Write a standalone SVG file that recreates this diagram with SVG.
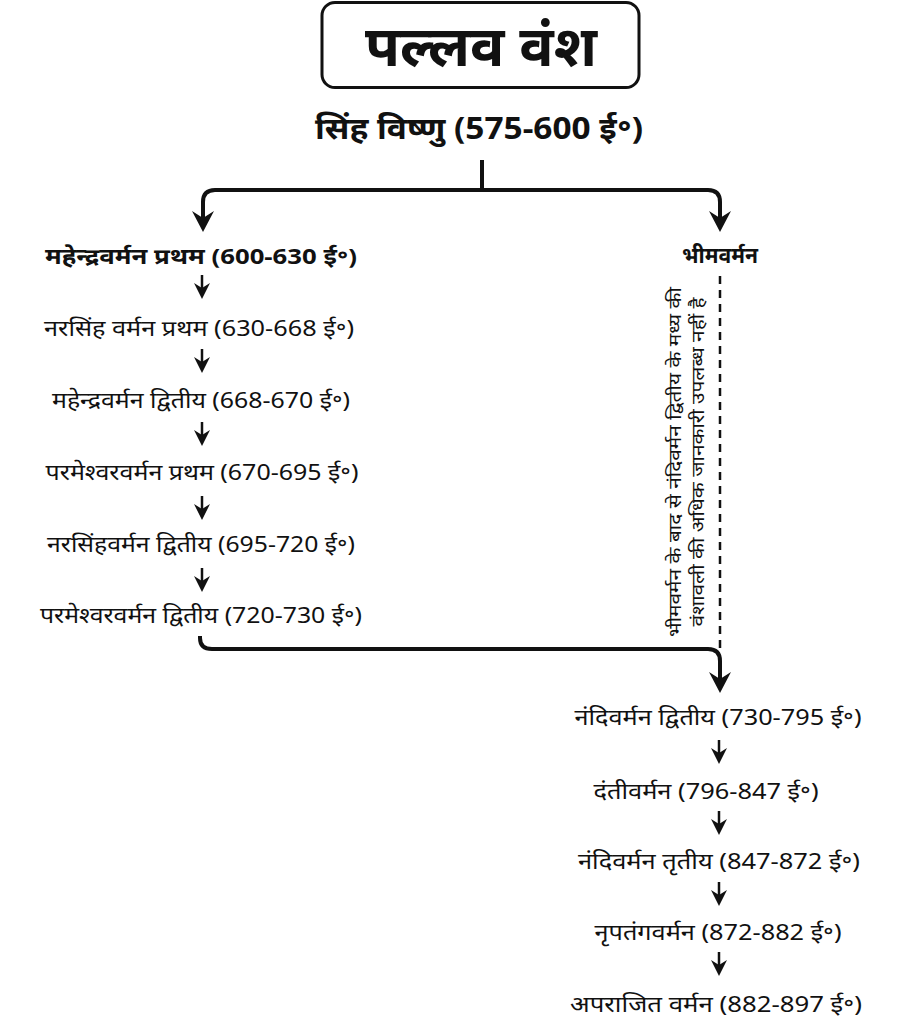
<svg xmlns="http://www.w3.org/2000/svg" width="908" height="1024" viewBox="0 0 908 1024">
<style>
text{font-family:"Noto Sans","DejaVu Sans",sans-serif;fill:#111;text-anchor:middle}
.n{font-size:22px}
.b{font-size:22px;font-weight:bold}
.v{font-size:18px}
.c{fill:none;stroke:#111;stroke-width:4;stroke-linecap:butt}
.s{fill:none;stroke:#111;stroke-width:2.5}
.d{fill:none;stroke:#111;stroke-width:2.5;stroke-dasharray:8 6}
</style>
<defs>
<marker id="big" markerUnits="userSpaceOnUse" viewBox="-22 -12 24 24" markerWidth="24" markerHeight="24" refX="-10" refY="0" orient="auto">
<path d="M0,0 L-21,-11 L-14,0 L-21,11 Z" fill="#111"/>
</marker>
<marker id="sm" markerUnits="userSpaceOnUse" viewBox="-17 -9 19 18" markerWidth="19" markerHeight="18" refX="-6" refY="0" orient="auto">
<path d="M0,0 L-16,-8 L-11,0 L-16,8 Z" fill="#111"/>
</marker>
</defs>
<rect width="908" height="1024" fill="#fff"/>
<g id="title">
<rect x="322" y="2.5" width="317" height="85" rx="13" fill="#fff" stroke="#111" stroke-width="3"/>
<text x="481" y="66" style="font-size:56px;font-weight:bold" textLength="232" lengthAdjust="spacingAndGlyphs">पल्लव वंश</text>
</g>
<g id="simhavishnu"><text x="479" y="139" style="font-size:30px;font-weight:bold" textLength="328" lengthAdjust="spacingAndGlyphs">सिंह विष्णु (575-600 ई॰)</text></g>
<g id="mahendra1"><text class="b" x="201" y="264" textLength="312" lengthAdjust="spacingAndGlyphs">महेन्द्रवर्मन प्रथम (600-630 ई॰)</text></g>
<g id="bhima"><text class="b" x="720" y="263" textLength="76" lengthAdjust="spacingAndGlyphs">भीमवर्मन</text></g>
<g id="narasimha1"><text class="n" x="199" y="336" textLength="310" lengthAdjust="spacingAndGlyphs">नरसिंह वर्मन प्रथम (630-668 ई॰)</text></g>
<g id="mahendra2"><text class="n" x="201" y="408" textLength="298" lengthAdjust="spacingAndGlyphs">महेन्द्रवर्मन द्वितीय (668-670 ई॰)</text></g>
<g id="parameshvara1"><text class="n" x="202" y="480" textLength="313" lengthAdjust="spacingAndGlyphs">परमेश्वरवर्मन प्रथम (670-695 ई॰)</text></g>
<g id="narasimha2"><text class="n" x="201" y="552" textLength="308" lengthAdjust="spacingAndGlyphs">नरसिंहवर्मन द्वितीय (695-720 ई॰)</text></g>
<g id="parameshvara2"><text class="n" x="201" y="623" textLength="322" lengthAdjust="spacingAndGlyphs">परमेश्वरवर्मन द्वितीय (720-730 ई॰)</text></g>
<g id="note">
<text class="v" transform="translate(681,462) rotate(-90)" textLength="350" lengthAdjust="spacingAndGlyphs">भीमवर्मन के बाद से नंदिवर्मन द्वितीय के मध्य की</text>
<text class="v" transform="translate(704,462) rotate(-90)" textLength="329" lengthAdjust="spacingAndGlyphs">वंशावली की अधिक जानकारी उपलब्ध नहीं है</text>
</g>
<g id="nandi2"><text class="n" x="718" y="725" textLength="287" lengthAdjust="spacingAndGlyphs">नंदिवर्मन द्वितीय (730-795 ई॰)</text></g>
<g id="danti"><text class="n" x="706" y="799" textLength="225" lengthAdjust="spacingAndGlyphs">दंतीवर्मन (796-847 ई॰)</text></g>
<g id="nandi3"><text class="n" x="719" y="869" textLength="282" lengthAdjust="spacingAndGlyphs">नंदिवर्मन तृतीय (847-872 ई॰)</text></g>
<g id="nripatunga"><text class="n" x="718" y="940" textLength="247" lengthAdjust="spacingAndGlyphs">नृपतंगवर्मन (872-882 ई॰)</text></g>
<g id="aparajita"><text class="n" x="716" y="1012" textLength="292" lengthAdjust="spacingAndGlyphs">अपराजित वर्मन (882-897 ई॰)</text></g>
<g id="connectors">
<path class="c" d="M482,160 V188"/>
<path class="c" d="M482,190 H215 Q203,190 203,202 V222" marker-end="url(#big)"/>
<path class="c" d="M482,190 H708 Q720,190 720,202 V222" marker-end="url(#big)"/>
<path class="d" d="M720,276 V648"/>
<path class="c" d="M200,636 V638 Q200,649 212,649 H708 Q720,649 720,661 V683" marker-end="url(#big)"/>
<path class="s" d="M202,275 V293" marker-end="url(#sm)"/>
<path class="s" d="M202,349 V367" marker-end="url(#sm)"/>
<path class="s" d="M202,422 V440" marker-end="url(#sm)"/>
<path class="s" d="M202,496 V514" marker-end="url(#sm)"/>
<path class="s" d="M202,568 V586" marker-end="url(#sm)"/>
<path class="s" d="M719,740 V758" marker-end="url(#sm)"/>
<path class="s" d="M719,811 V829" marker-end="url(#sm)"/>
<path class="s" d="M719,882 V900" marker-end="url(#sm)"/>
<path class="s" d="M719,952 V970" marker-end="url(#sm)"/>
</g>
</svg>
